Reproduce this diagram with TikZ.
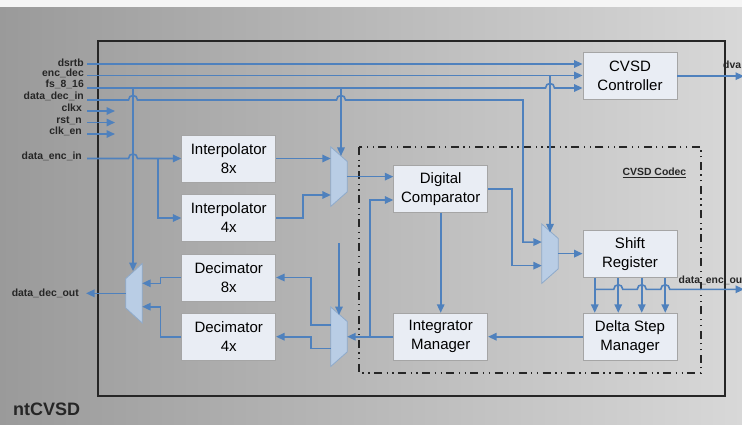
\documentclass[tikz,border=0pt]{standalone}
\usepackage{fontspec}
\setmainfont{Liberation Sans}
\usetikzlibrary{arrows.meta,calc}

\definecolor{wireblue}{HTML}{4F81BD}
\definecolor{muxfill}{HTML}{B9CDE5}
\definecolor{muxedge}{HTML}{8EAACB}
\definecolor{boxfill}{HTML}{E9EDF4}
\definecolor{boxedge}{HTML}{A5A5A5}
\definecolor{bgleft}{HTML}{9A9A9A}
\definecolor{bgright}{HTML}{D8D8D8}

\tikzset{
  wire/.style={draw=wireblue, line width=1.6pt, -{Triangle[length=8.5pt,width=7.5pt]}},
  block/.style={draw=boxedge, fill=boxfill, line width=0.8pt, minimum width=94pt,
    minimum height=47pt, align=center, inner sep=2pt,
    font=\fontsize{15}{19}\selectfont},
  muxslot/.style={rectangle, inner sep=0pt, minimum width=16pt, minimum height=59pt},
  muxshape/.style={draw=muxedge, fill=muxfill, line width=0.8pt},
  sig/.style={font=\bfseries\fontsize{10.4}{12}\selectfont, text height=7.5pt,
    text depth=2pt, inner sep=0pt, text=black!85},
  % jump of a horizontal wire over a vertical one at x=#1, y=#2
  hopover/.style args={#1/#2}{insert path={-- (#1-4.5,#2)
    .. controls (#1-4.5,#2-6) and (#1+4.5,#2-6) .. (#1+4.5,#2)}},
  codec/.style={draw=black!85, line width=1.3pt,
    dash pattern=on 8pt off 4.5pt on 1.3pt off 4.5pt on 1.3pt off 4.5pt},
}

% mux bodies: narrow side on the right / on the left
\newcommand\muxnarrowright[1]{\draw[muxshape] (#1.north west) -- ([yshift=-14.5pt]#1.north east)
  -- ([yshift=14.5pt]#1.south east) -- (#1.south west) -- cycle;}
\newcommand\muxnarrowleft[1]{\draw[muxshape] ([yshift=-15pt]#1.north west) -- (#1.north east)
  -- (#1.south east) -- ([yshift=15pt]#1.south west) -- cycle;}

\begin{document}
\begin{tikzpicture}[x=1pt,y=-1pt]
\useasboundingbox (0,0) rectangle (742,424);

% backdrop
\fill[left color=bgleft, right color=bgright] (0,0) rectangle (742,424);
\fill[black!4] (0,0) rectangle (742,7);

% chip outline and codec region
\draw[line width=1.2pt, black!85] (98,41) rectangle (725,396);
\draw[codec] (359,147) rectangle (701,373);
\node[sig] (codeclbl) at (654.5,173) {\underline{CVSD Codec}};
\node[font=\bfseries\fontsize{18}{20}\selectfont, text=black!85, anchor=west, inner sep=0pt]
  (chipname) at (13,409) {ntCVSD};

% functional blocks
\node[block] (ctrl)   at (630,76.2)    {CVSD\\Controller};
\node[block] (interp8) at (228.7,158.5) {Interpolator\\8x};
\node[block] (interp4) at (228.7,218)   {Interpolator\\4x};
\node[block] (dec8)   at (228.7,277.5) {Decimator\\8x};
\node[block] (dec4)   at (228.7,336.7) {Decimator\\4x};
\node[block] (comp)   at (440.7,188.7) {Digital\\Comparator};
\node[block] (integ)  at (440.7,336.7) {Integrator\\Manager};
\node[block] (shift)  at (630,254)     {Shift\\Register};
\node[block] (delta)  at (630,336.7)   {Delta Step\\Manager};

% multiplexers
\node[muxslot] (mux1) at (339,176.65) {};
\node[muxslot] (mux2) at (339,336.7) {};
\node[muxslot] (mux3) at (550,253.65) {};
\node[muxslot] (mux4) at (134,293.3) {};
\muxnarrowright{mux1}
\muxnarrowright{mux2}
\muxnarrowright{mux3}
\muxnarrowleft{mux4}

% mux ports
\coordinate (m1sel) at ([xshift=2pt,yshift=-9pt]mux1.north);
\coordinate (m1in2) at ([yshift=-18.35pt]mux1.west);
\coordinate (m2sel) at ([yshift=-8pt]mux2.north);
\coordinate (m2out1) at ([yshift=11.5pt]mux2.west);
\coordinate (m2out2) at ([yshift=-11.6pt]mux2.west);
\coordinate (m3sel) at ([yshift=-8.5pt]mux3.north);
\coordinate (m3in1) at ([yshift=11.6pt]mux3.west);
\coordinate (m3in2) at ([yshift=-12pt]mux3.west);
\coordinate (m4sel) at ([xshift=-1pt,yshift=-7.5pt]mux4.north);
\coordinate (m4in1) at ([yshift=10pt]mux4.east);
\coordinate (m4in2) at ([yshift=-13.4pt]mux4.east);
\coordinate (cmpin2) at ([yshift=-11.3pt]comp.west);

% chip pins
\coordinate (sdsrtb) at (87,64);
\coordinate (senc)   at (87,75.5);
\coordinate (sfs)    at (87,88);
\coordinate (sddi)   at (87,100);
\coordinate (sclkx)  at (87,111);
\coordinate (srst)   at (87,122.5);
\coordinate (sclken) at (87,134);
\coordinate (sdei)   at (87,158.5);
\coordinate (eclkx)  at (115,111);
\coordinate (erst)   at (115,122.5);
\coordinate (eclken) at (115,134);
\coordinate (edec)   at (86,293.3);
\coordinate (ectrl)  at (744,76.2);
\coordinate (jencout) at (594.75,289.3);
\coordinate (eencout) at (744,289.3);
\coordinate (jdei)   at (157.7,158.5);
\coordinate (jint)   at (370,336.7);
\coordinate (m2top)  at (339,243);

% pin labels
\node[sig, anchor=east] (ldsrtb) at (84,64)    {dsrtb};
\node[sig, anchor=east] (lenc)   at (84,73.5)  {enc\_dec};
\node[sig, anchor=east] (lfs)    at (84,84.5)  {fs\_8\_16};
\node[sig, anchor=east] (lddi)   at (84,96.5)  {data\_dec\_in};
\node[sig, anchor=east] (lclkx)  at (82,109)   {clkx};
\node[sig, anchor=east] (lrst)   at (82,121)   {rst\_n};
\node[sig, anchor=east] (lclken) at (82,131.5) {clk\_en};
\node[sig, anchor=east] (ldei)   at (82,157)   {data\_enc\_in};
\node[sig, anchor=east] (lddo)   at (79,293.3) {data\_dec\_out};
\node[sig, anchor=west] (ldva)   at (723,66) {dva};
\node[sig, anchor=west] (lenco)  at (678.5,281) {data\_enc\_ou};

% control inputs
\draw[wire] (sdsrtb) -- (sdsrtb -| ctrl.west);
\draw[wire] (senc) -- (senc -| ctrl.west);
\draw[wire] (sfs) [hopover=550/88] -- (sfs -| ctrl.west);
\draw[wire] (senc -| m3sel) -- (m3sel);
\draw[wire] (sfs -| m1sel) -- (m1sel);
\draw[wire] (sfs -| m4sel) -- (m4sel);
\draw[wire] (sddi) [hopover=133/100] [hopover=341/100] -- (523,100) |- (m3in1);
\draw[wire] (sclkx) -- (eclkx);
\draw[wire] (srst) -- (erst);
\draw[wire] (sclken) -- (eclken);
\draw[wire] (ctrl.east) -- (ectrl);

% encoder input path
\draw[wire] (sdei) [hopover=133/158.5] -- (interp8.west);
\draw[wire] (jdei) |- (interp4.west);
\draw[wire] (interp8.east) -- (interp8.east -| mux1.west);
\draw[wire] (interp4.east) -- ++(27,0) |- (m1in2);
\draw[wire] (mux1.east) -- (mux1.east -| comp.west);

% codec core
\draw[wire] (comp.south) -- (integ.north);
\draw[wire] (comp.east) -- ++(24,0) |- (m3in2);
\draw[wire] (mux3.east) -- (mux3.east -| shift.west);
\foreach \dx in {-35.25,-11.75,11.75,35.25}
  \draw[wire] ([xshift=\dx pt]shift.south) -- ([xshift=\dx pt]delta.north);
\draw[wire] (jencout) [hopover=618.25/289.3] [hopover=641.75/289.3]
  [hopover=665.25/289.3] -- (eencout);
\draw[wire] (delta.west) -- (integ.east);
\draw[wire] (integ.west) -- (integ.west -| mux2.east);
\draw[wire] (jint) |- (cmpin2);

% decoder output path
\draw[wire] (m2top) -- (m2sel);
\draw[wire] (m2out1) -- ++(-20,0) |- (dec8.east);
\draw[wire] (m2out2) -- ++(-20,0) |- (dec4.east);
\draw[wire] (dec8.west) -- ++(-21,0) |- (m4in1);
\draw[wire] (dec4.west) -- ++(-21,0) |- (m4in2);
\draw[wire] (mux4.west) -- (edec);
\end{tikzpicture}
\end{document}
